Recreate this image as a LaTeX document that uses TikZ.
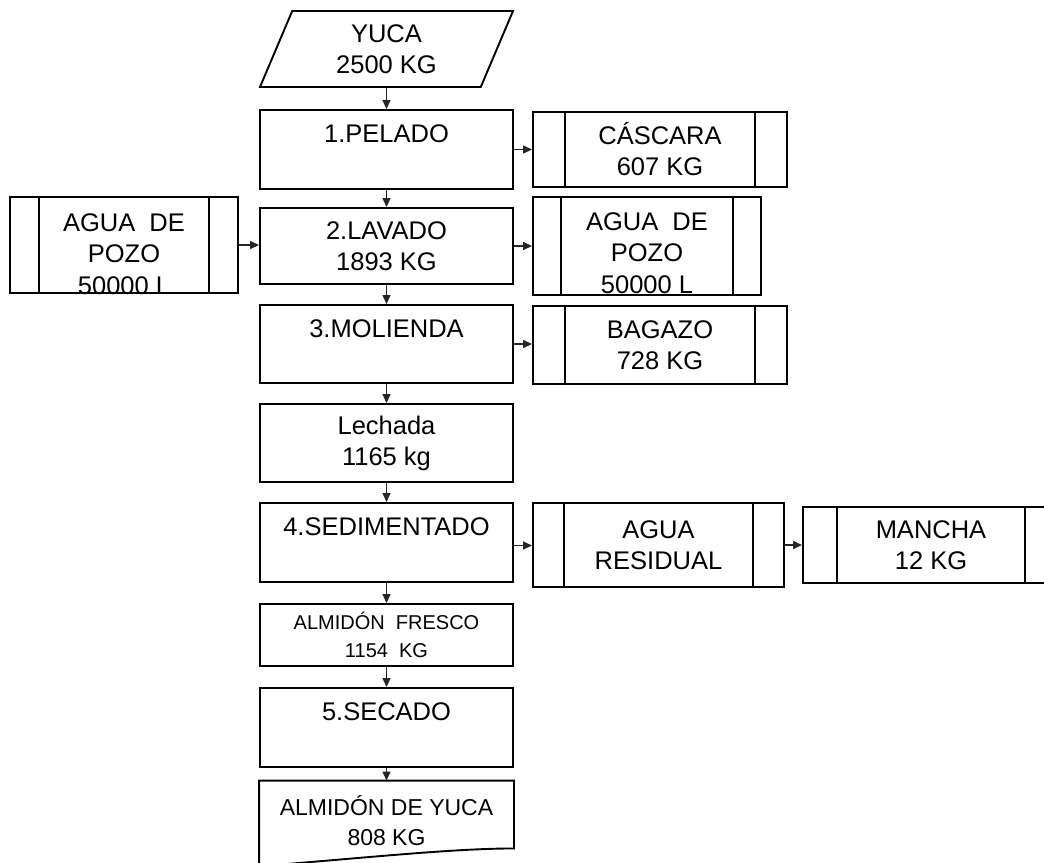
\documentclass[tikz,border=0pt]{standalone}
\usepackage{fontspec}
\setmainfont{Liberation Sans}
\usetikzlibrary{arrows.meta,shapes.geometric,calc}
\begin{document}
\begin{tikzpicture}[x=1pt,y=-1pt,
  box/.style={draw, line width=1.9pt, rectangle, inner sep=0pt, align=center,
    font=\fontsize{25.5}{31}\selectfont},
  side/.style={box, path picture={
    \draw[line width=1.9pt]
      ([xshift=#1]path picture bounding box.north west) -- ([xshift=#1]path picture bounding box.south west)
      ([xshift=-#1]path picture bounding box.north east) -- ([xshift=-#1]path picture bounding box.south east);}},
  txt/.style={inner sep=0pt, align=center, font=\fontsize{25.5}{31.5}\selectfont},
  arr/.style={-{Triangle[length=9pt,width=8pt]}, line width=1.3pt, draw=black!85}]
\useasboundingbox (0,0) rectangle (1044,862);
\clip (0,0) rectangle (1044,862);

% main column
\node[box, trapezium, trapezium left angle=56.7, trapezium right angle=123.3,
  trapezium stretches body, minimum width=253pt, minimum height=76pt] (yuca) at (386.5,49) {YUCA\\2500 KG};
\node[box, minimum width=253pt, minimum height=79pt] (pelado) at (386.5,149.5) {1.PELADO\\~};
\node[box, minimum width=253pt, minimum height=76pt] (lavado) at (386.5,246) {2.LAVADO\\1893 KG};
\node[box, minimum width=253pt, minimum height=78pt] (molienda) at (386.5,344) {3.MOLIENDA\\~};
\node[box, minimum width=253pt, minimum height=78pt] (lechada) at (386.5,443) {Lechada\\1165 kg};
\node[box, minimum width=253pt, minimum height=79pt] (sedimentado) at (386.5,542.5) {4.SEDIMENTADO\\~};
\node[box, minimum width=253pt, minimum height=62pt, font=\fontsize{20}{28}\selectfont] (fresco) at (386.5,635) {ALMIDÓN\ \ FRESCO\\1154\ \ KG};
\node[box, minimum width=253pt, minimum height=79pt] (secado) at (386.5,727.5) {5.SECADO\\~};
\node[box, draw=none, minimum width=253pt, minimum height=79pt, font=\fontsize{23}{30}\selectfont] (ayuca) at (386.5,821) {ALMIDÓN DE YUCA\\808 KG};
\draw[line width=1.9pt] ([yshift=-8pt]ayuca.south west) -- (ayuca.north west) -- (ayuca.north east)
  -- ([yshift=13pt]ayuca.south east)
  .. controls ([xshift=-60pt,yshift=13pt]ayuca.south east) and ([xshift=110pt,yshift=4pt]ayuca.south west)
  .. ([xshift=10pt,yshift=-4pt]ayuca.south west);

% side boxes
\node[side=29pt, minimum width=228pt, minimum height=96pt] (pozoL) at (124,245) {};
\node[txt] (tpozoL) at (124,254) {AGUA\ \ DE\\POZO\\50000 L};
\node[side=32pt, minimum width=254pt, minimum height=75pt] (cascara) at (660,149.5) {CÁSCARA\\607 KG};
\node[side=28pt, minimum width=228pt, minimum height=98pt] (pozoR) at (647,246) {};
\node[txt] (tpozoR) at (647,253) {AGUA\ \ DE\\POZO\\50000 L};
\node[side=32pt, minimum width=254pt, minimum height=78pt] (bagazo) at (660,345) {BAGAZO\\728 KG};
\node[side=31pt, minimum width=251pt, minimum height=84pt] (residual) at (658.5,545) {AGUA\\RESIDUAL};
\node[side=34pt, minimum width=256pt, minimum height=76pt] (mancha) at (931,545) {MANCHA\\12 KG};

% connectors
\draw[arr] (pelado.north |- yuca.south) -- (pelado.north);
\draw[arr] (pelado.south) -- (lavado.north);
\draw[arr] (lavado.south) -- (molienda.north);
\draw[arr] (molienda.south) -- (lechada.north);
\draw[arr] (lechada.south) -- (sedimentado.north);
\draw[arr] (sedimentado.south) -- (fresco.north);
\draw[arr] (fresco.south) -- (secado.north);
\draw[arr] (secado.south) -- (ayuca.north);
\draw[arr] (pelado.east) -- (pelado.east -| cascara.west);
\draw[arr] (pozoL.east) -- (pozoL.east -| lavado.west);
\draw[arr] (lavado.east) -- (lavado.east -| pozoR.west);
\draw[arr] (molienda.east) -- (molienda.east -| bagazo.west);
\draw[arr] (sedimentado.east) ++(0,3) coordinate (sedout) -- (sedout -| residual.west);
\draw[arr] (residual.east) -- (residual.east -| mancha.west);
\end{tikzpicture}
\end{document}
